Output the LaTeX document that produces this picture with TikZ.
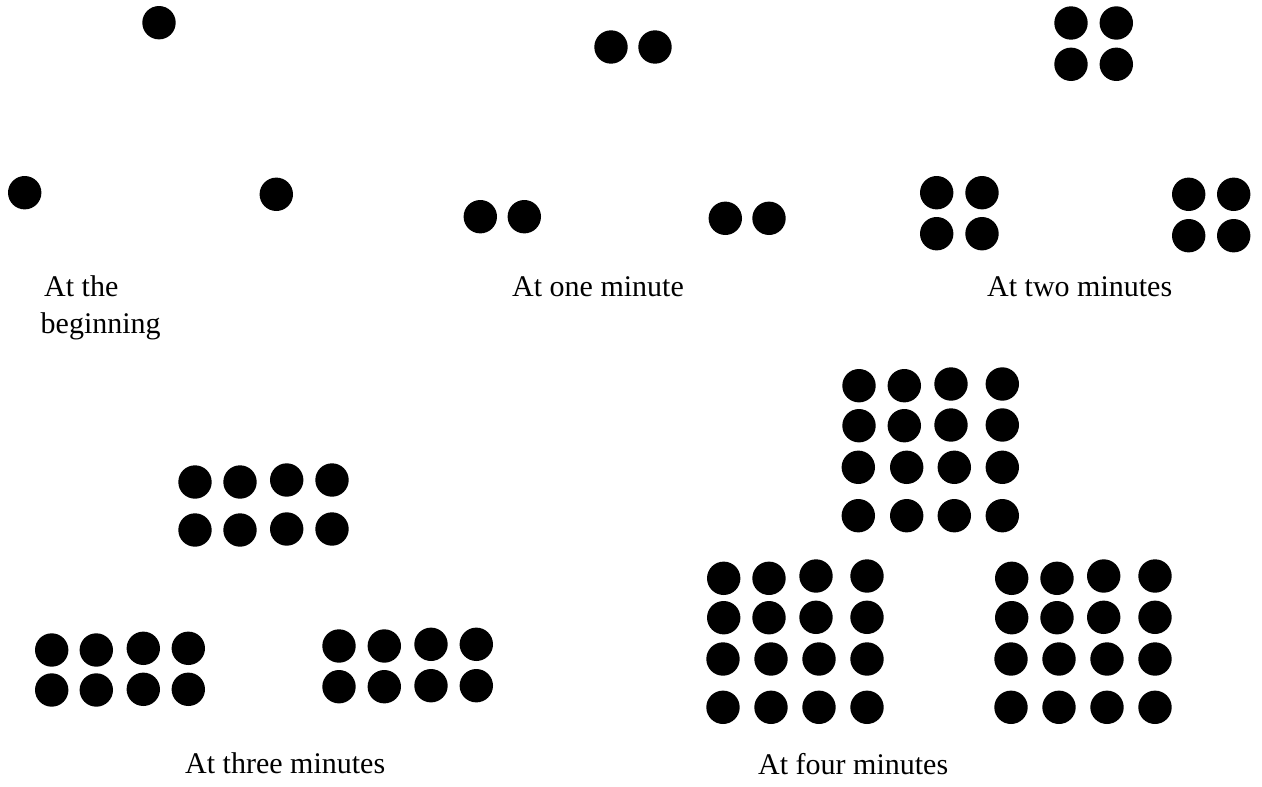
\documentclass[tikz,border=0pt]{standalone}
\usepackage{fontspec}
\setmainfont{Liberation Serif}
\begin{document}
\begin{tikzpicture}[x=1pt,y=-1pt,
  dot/.style={circle,fill=black,draw=none,inner sep=0pt,minimum size=33.4pt},
  lbl/.style={inner sep=0pt,anchor=base west,font=\fontsize{30}{36}\selectfont}]
\useasboundingbox (0,0) rectangle (1262,787);
% At the beginning
\foreach \x/\y [count=\n] in {159/22.7, 24.7/192.7, 276.3/194.3}
  \node[dot] (a\n) at (\x,\y) {};
% At one minute
\foreach \x/\y [count=\n] in {611/47, 655/47, 480.3/216.7, 524.3/216.7, 725.3/218.3, 769/218.3}
  \node[dot] (b\n) at (\x,\y) {};
% At two minutes
\foreach \x/\y [count=\n] in {1071/23, 1116.3/23, 1071/64.3, 1116.3/64.3,
  936.7/192.7, 982/192.7, 936.7/233.7, 982/233.7,
  1188.7/194.3, 1233.7/194.3, 1188.7/235.7, 1233.7/235.7}
  \node[dot] (c\n) at (\x,\y) {};
% At three minutes
\foreach \x/\y [count=\n] in {195/482, 240/482, 286.7/480, 332/480,
  195/530, 240/530, 286.7/529, 332/529,
  51.7/650, 96.3/650, 143.3/648.3, 188.3/648.3,
  51.7/690, 96.3/690, 143.3/689.3, 188.3/689.3,
  339/646, 384.3/646, 431/644.3, 476.3/644.3,
  339/686.7, 384.3/686.7, 431/685.7, 476.3/685.7}
  \node[dot] (e\n) at (\x,\y) {};
% At four minutes
\foreach \x/\y [count=\n] in {859/385.7, 904.3/385.7, 951/384, 1002.3/384,
  859/425.7, 904.3/425.7, 951/425, 1002.3/425,
  858.3/467.3, 906.7/467.3, 954.3/467.3, 1002.3/467.3,
  858.3/515.7, 906.7/515.7, 954.3/515.7, 1002.3/515.7,
  723.7/578.3, 769/578.3, 816/576, 867/576,
  723.7/617.7, 769/617.7, 816/617.3, 867/617.3,
  723/659, 771/659, 819/659, 867/659,
  723/707.3, 771/707.3, 819/707.3, 867/707.3,
  1011.7/578.3, 1057/578.3, 1103.7/576, 1155/576,
  1011.7/617.7, 1057/617.7, 1103.7/617.3, 1155/617.3,
  1011/659, 1059/659, 1107/659, 1155/659,
  1011/707.3, 1059/707.3, 1107/707.3, 1155/707.3}
  \node[dot] (f\n) at (\x,\y) {};
% labels
\node[lbl] (t1) at (44,296.7) {At the};
\node[lbl] (t2) at (40.5,333) {beginning};
\node[lbl] (t3) at (512,296) {At one minute};
\node[lbl] (t4) at (987,296) {At two minutes};
\node[lbl] (t5) at (185,773) {At three minutes};
\node[lbl] (t6) at (758,774) {At four minutes};
\end{tikzpicture}
\end{document}
